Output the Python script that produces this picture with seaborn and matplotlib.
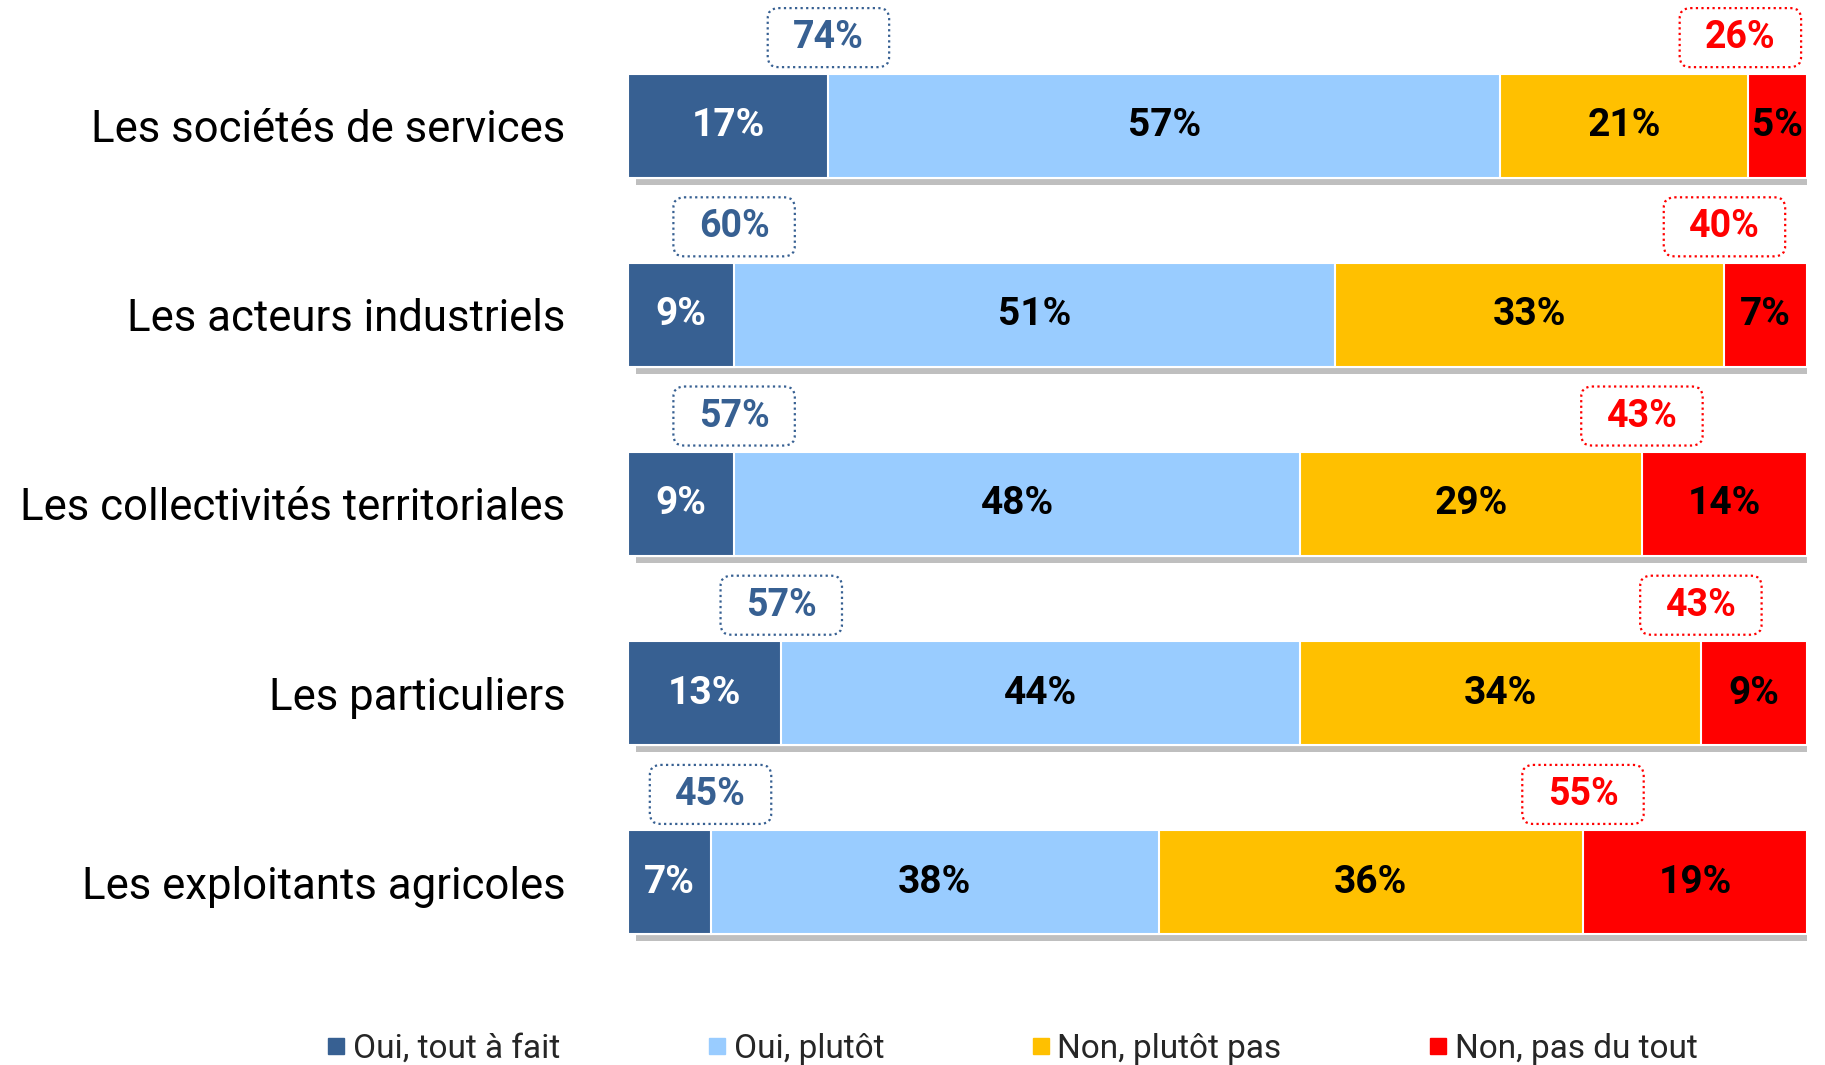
import numpy as np
import pandas as pd
import matplotlib
matplotlib.use("Agg")
import matplotlib.pyplot as plt
import matplotlib.patheffects as pe
from matplotlib.patches import FancyBboxPatch
from matplotlib import font_manager
import seaborn as sns

categories = ["Les sociétés de services", "Les acteurs industriels",
              "Les collectivités territoriales", "Les particuliers",
              "Les exploitants agricoles"]
series = ["Oui, tout à fait", "Oui, plutôt", "Non, plutôt pas", "Non, pas du tout"]
oui_tout = [17, 9, 9, 13, 7]
oui_plutot = [57, 51, 48, 44, 38]
non_plutot = [21, 33, 29, 34, 36]
non_pas = [5, 7, 14, 9, 19]
total_oui = [74, 60, 57, 57, 45]
total_non = [26, 40, 43, 43, 55]

colors = ["#376092", "#99CCFF", "#FFC000", "#FF0000"]
label_colors = ["white", "black", "black", "black"]

installed = {f.name for f in font_manager.fontManager.ttflist}
narrow = "Liberation Sans Narrow" if "Liberation Sans Narrow" in installed else "Roboto"

sns.set_style("white")
plt.rcParams["font.family"] = ["DejaVu Sans"]

df = pd.DataFrame({"cat": categories, series[0]: oui_tout, series[1]: oui_plutot,
                   series[2]: non_plutot, series[3]: non_pas})
vals = df[series].to_numpy(dtype=float)
cum = vals.cumsum(axis=1)

fig = plt.figure(figsize=(18.25, 10.65), dpi=100)
ax = fig.add_axes([628 / 1825, 1 - 977 / 1065, 1179 / 1825, 946 / 1065])

# stacked bars: draw cumulative totals from the largest down
for i in range(3, -1, -1):
    d = pd.DataFrame({"cat": categories, "v": cum[:, i]})
    sns.barplot(data=d, x="v", y="cat", order=categories, orient="h", color=colors[i],
                saturation=1, width=0.55, edgecolor="white", linewidth=1.5, ax=ax)

# shadow on the full bars
for p in ax.patches[:len(categories)]:
    p.set_path_effects([pe.SimplePatchShadow(offset=(6, -5), shadow_rgbFace="#BFBFBF", alpha=1),
                        pe.Normal()])

for r in range(len(categories)):
    for i in range(4):
        left = cum[r, i] - vals[r, i]
        ax.text(left + vals[r, i] / 2, r, f"{int(vals[r, i])}%", ha="center", va="center",
                color=label_colors[i], fontsize=28, fontweight="bold", family=[narrow, "DejaVu Sans"])

# callouts
bw, bh, dy = 10.3, 0.312, -0.465
asp = (1179 / 100) / (946 / 5)
for r in range(len(categories)):
    for xc, txt, col in [(cum[r, 0], total_oui[r], "#376092"),
                         (min(cum[r, 2], 100 - bw / 2 - 0.5), total_non[r], "#FF0000")]:
        box = FancyBboxPatch((xc - bw / 2, r + dy - bh / 2), bw, bh,
                             boxstyle="round,pad=0,rounding_size=0.9", mutation_aspect=asp,
                             fc="white", ec=col, lw=1.6, ls=(0, (1, 1.5)), clip_on=False, zorder=5)
        ax.add_patch(box)
        ax.text(xc, r + dy, f"{txt}%", ha="center", va="center", color=col, fontsize=27,
                fontweight="bold", family=["Roboto", "DejaVu Sans"], zorder=6, clip_on=False)

ax.set_xlim(0, 100)
ax.set_ylim(len(categories) - 0.5, -0.5)
ax.set_xlabel("")
ax.set_ylabel("")
ax.set_xticks([])
ax.tick_params(axis="y", length=0, pad=45)
for t in ax.get_yticklabels():
    t.set_fontsize(31.5)
    t.set_family([narrow, "DejaVu Sans"])
    t.set_color("black")
sns.despine(ax=ax, left=True, bottom=True)

handles = [plt.Line2D([], [], marker="s", ls="", color=c, markersize=11) for c in colors]
fig.legend(handles, series, loc="center left", bbox_to_anchor=(328 / 1825, 1 - 1049 / 1065),
           ncol=4, frameon=False, handlelength=0.5, handletextpad=0.25, columnspacing=4.45,
           prop={"family": [narrow, "DejaVu Sans"], "size": 24}, borderpad=0, borderaxespad=0)

fig.savefig("out.png", dpi=100)
